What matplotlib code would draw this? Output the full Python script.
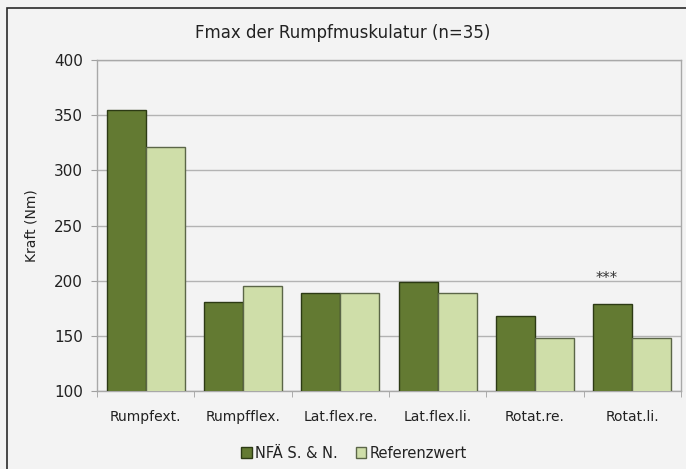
import matplotlib
matplotlib.use("Agg")
import matplotlib.pyplot as plt
import numpy as np
from matplotlib.patches import Rectangle

categories = ["Rumpfext.", "Rumpfflex.", "Lat.flex.re.", "Lat.flex.li.", "Rotat.re.", "Rotat.li."]
nfa_values = [355, 181, 189, 199, 168, 179]
ref_values = [321, 195, 189, 189, 148, 148]
series_names = ["NFÄ S. & N.", "Referenzwert"]
y_ticks = [100, 150, 200, 250, 300, 350, 400]
marker_text = "***"
marker_index = 5
marker_value = 202

W, H = 686, 469
fig = plt.figure(figsize=(W / 100, H / 100), dpi=100)
bg = "#f3f3f3"
fig.patch.set_facecolor(bg)
plt.rcParams['font.family'] = ['DejaVu Sans']

# outer chart border
fig.patches.append(Rectangle((7 / W, -0.1), 1.2, (H - 8) / H + 0.1, transform=fig.transFigure,
                             fill=False, edgecolor="#2a2a2a", linewidth=1.2))

ax = fig.add_axes([97 / W, 1 - 391 / H, (681 - 97) / W, (391 - 60) / H])
ax.set_facecolor(bg)

x = np.arange(len(categories))
w = 0.4
dark = "#637a32"
light = "#cfdea9"
ax.bar(x - w / 2, nfa_values, width=w, color=dark, edgecolor="#2c3a14", linewidth=1.0,
       label=series_names[0], zorder=3)
ax.bar(x + w / 2, ref_values, width=w, color=light, edgecolor="#5b6648", linewidth=1.0,
       label=series_names[1], zorder=3)

ax.set_ylim(100, 400)
ax.set_xlim(-0.5, len(categories) - 0.5)
ax.set_yticks(y_ticks)
ax.set_yticklabels([str(v) for v in y_ticks], fontsize=11, color="#222222")
ax.yaxis.grid(True, color="#b3b3b3", linewidth=1.0, zorder=0)
ax.set_axisbelow(True)

ax.set_xticks(x)
ax.set_xticklabels(categories, fontsize=10, color="#222222")
ax.tick_params(axis="x", length=0, pad=14)
ax.set_xticks(np.arange(-0.5, len(categories) + 0.5, 1), minor=True)
ax.tick_params(axis="x", which="minor", length=4, color="#a0a0a0", direction="out")
ax.tick_params(axis="y", length=4, color="#a0a0a0", direction="out", pad=6)

for s in ["left", "bottom", "right", "top"]:
    ax.spines[s].set_color("#a8a8a8")
    ax.spines[s].set_linewidth(1.0)

ax.set_ylabel("Kraft (Nm)", fontsize=10, color="#222222", labelpad=11)

ax.text(marker_index - w / 2 - 0.06, marker_value, marker_text, ha="center", va="center",
        fontsize=10.5, color="#333333", zorder=4)

fig.text(0.5, 1 - 33 / H, "Fmax der Rumpfmuskulatur (n=35)", ha="center", va="center",
         fontsize=12, color="#222222")

leg = ax.legend(loc="center", bbox_to_anchor=((354 - 97) / 584, -(453 - 391) / (391 - 60)), ncol=2,
                frameon=False, fontsize=10.5, handlelength=0.7, handleheight=0.7,
                handletextpad=0.2, columnspacing=1.3)
for t in leg.get_texts():
    t.set_color("#222222")

fig.savefig("out.png", dpi=100, facecolor=bg)
